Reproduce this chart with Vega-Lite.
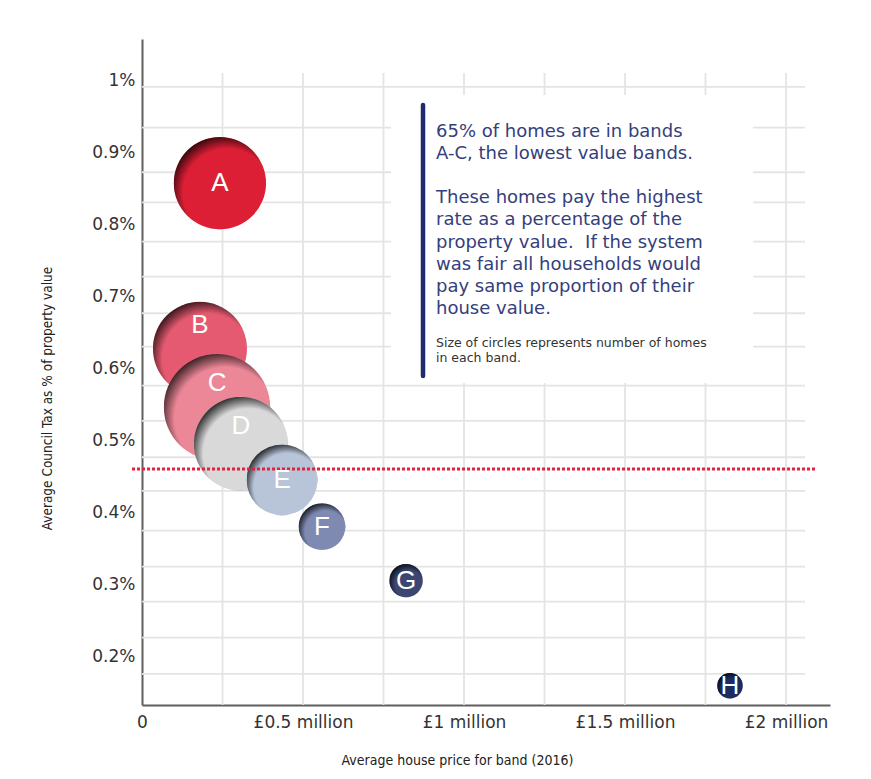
{
  "$schema": "https://vega.github.io/schema/vega-lite/v6.json",
  "width": 688,
  "height": 666,
  "autosize": "none",
  "padding": {"left": 142, "top": 39, "right": 41, "bottom": 74},
  "background": "white",
  "config": {
    "view": {"stroke": null},
    "axis": {
      "grid": false,
      "ticks": false,
      "tickSize": 0,
      "domainColor": "#5f5f5f",
      "domainWidth": 2,
      "labelFont": "DejaVu Sans",
      "labelFontSize": 17,
      "labelColor": "#333333",
      "titleFont": "DejaVu Sans Condensed",
      "titleFontSize": 13.5,
      "titleFontWeight": "normal",
      "titleColor": "#222222"
    }
  },
  "datasets": {
    "bands": [
      {"band": "A", "price": 242000, "rate": 0.858, "share": 18.3},
      {"band": "B", "price": 180000, "rate": 0.628, "share": 19.0},
      {"band": "C", "price": 233000, "rate": 0.547, "share": 24.3},
      {"band": "D", "price": 307000, "rate": 0.496, "share": 19.0},
      {"band": "E", "price": 435000, "rate": 0.446, "share": 10.8},
      {"band": "F", "price": 559000, "rate": 0.381, "share": 4.7},
      {"band": "G", "price": 820000, "rate": 0.306, "share": 2.4},
      {"band": "H", "price": 1826000, "rate": 0.160, "share": 1.4}
    ],
    "hgrid": [
      {"rate": 0.9917}, {"rate": 0.9351}, {"rate": 0.8732}, {"rate": 0.8315},
      {"rate": 0.7768}, {"rate": 0.7282}, {"rate": 0.6774}, {"rate": 0.6310},
      {"rate": 0.5768}, {"rate": 0.5278}, {"rate": 0.4774}, {"rate": 0.4306},
      {"rate": 0.3754}, {"rate": 0.3254}, {"rate": 0.2768}, {"rate": 0.2268},
      {"rate": 0.1764}
    ],
    "vgrid": [
      {"price": 250000}, {"price": 500000}, {"price": 750000}, {"price": 1000000},
      {"price": 1250000}, {"price": 1500000}, {"price": 1750000}, {"price": 2000000}
    ]
  },
  "layer": [
    {
      "data": {"name": "vgrid"},
      "mark": {"type": "rule", "color": "#e4e4e4", "strokeWidth": 1.8},
      "encoding": {
        "x": {
          "field": "price",
          "type": "quantitative",
          "scale": {"domain": [0, 2136600], "nice": false, "zero": false},
          "axis": {
            "title": "Average house price for band (2016)",
            "values": [0, 500000, 1000000, 1500000, 2000000],
            "labelExpr": "datum.value == 0 ? '0' : '£' + datum.value / 1000000 + ' million'",
            "labelPadding": 9,
            "labelFlush": false,
            "labelOverlap": false,
            "titleFontSize": 14,
            "titleX": 315,
            "titleY": 55,
            "titleAnchor": null,
            "titleAlign": "center",
            "titleBaseline": "middle"
          }
        },
        "y": {
          "datum": 1.011,
          "type": "quantitative",
          "scale": {"domain": [0.1333, 1.0583], "nice": false, "zero": false},
          "axis": {
            "title": "Average Council Tax as % of property value",
            "values": [0.2, 0.3, 0.4, 0.5, 0.6, 0.7, 0.8, 0.9, 1],
            "labelExpr": "datum.value + '%'",
            "labelPadding": 7,
            "labelFlush": false,
            "labelOverlap": false,
            "titleX": -95,
            "titleY": 359,
            "titleAngle": -90,
            "titleAlign": "center",
            "titleBaseline": "middle"
          }
        },
        "y2": {"datum": 0.1333}
      }
    },
    {
      "data": {"name": "hgrid"},
      "mark": {"type": "rule", "color": "#e4e4e4", "strokeWidth": 1.8},
      "encoding": {
        "y": {"field": "rate", "type": "quantitative"},
        "x": {"datum": 0, "type": "quantitative"},
        "x2": {"datum": 2059000}
      }
    },
    {
      "data": {"values": [{}]},
      "mark": {"type": "rect", "color": "white"},
      "encoding": {
        "x": {"datum": 773000, "type": "quantitative"},
        "x2": {"datum": 1898000},
        "y": {"datum": 0.9806, "type": "quantitative"},
        "y2": {"datum": 0.5806}
      }
    },
    {
      "data": {"values": [{}]},
      "mark": {"type": "rule", "color": "#1f2c6b", "strokeWidth": 4.5, "strokeCap": "round"},
      "encoding": {
        "x": {"datum": 872700, "type": "quantitative"},
        "y": {"datum": 0.9667, "type": "quantitative"},
        "y2": {"datum": 0.5903}
      }
    },
    {
      "data": {"values": [{}]},
      "mark": {
        "type": "text",
        "text": ["65% of homes are in bands", "A-C, the lowest value bands."],
        "align": "left",
        "baseline": "alphabetic",
        "font": "DejaVu Sans",
        "fontSize": 18,
        "lineHeight": 22.3,
        "color": "#34407c"
      },
      "encoding": {
        "x": {"datum": 913000, "type": "quantitative"},
        "y": {"datum": 0.9222, "type": "quantitative"}
      }
    },
    {
      "data": {"values": [{}]},
      "mark": {
        "type": "text",
        "text": [
          "These homes pay the highest",
          "rate as a percentage of the",
          "property value.\u00a0 If the system",
          "was fair all households would",
          "pay same proportion of their",
          "house value."
        ],
        "align": "left",
        "baseline": "alphabetic",
        "font": "DejaVu Sans",
        "fontSize": 18,
        "lineHeight": 22.3,
        "color": "#34407c"
      },
      "encoding": {
        "x": {"datum": 913000, "type": "quantitative"},
        "y": {"datum": 0.8306, "type": "quantitative"}
      }
    },
    {
      "data": {"values": [{}]},
      "mark": {
        "type": "text",
        "text": ["Size of circles represents number of homes", "in each band."],
        "align": "left",
        "baseline": "alphabetic",
        "font": "DejaVu Sans",
        "fontSize": 12.5,
        "lineHeight": 15,
        "color": "#333333"
      },
      "encoding": {
        "x": {"datum": 913000, "type": "quantitative"},
        "y": {"datum": 0.6306, "type": "quantitative"}
      }
    },
    {
      "data": {"name": "bands"},
      "encoding": {
        "x": {"field": "price", "type": "quantitative"},
        "y": {"field": "rate", "type": "quantitative"},
        "size": {
          "field": "share",
          "type": "quantitative",
          "scale": {"type": "linear", "domain": [0, 100], "range": [0, 46482], "zero": true},
          "legend": null
        },
        "color": {
          "field": "band",
          "type": "nominal",
          "scale": {
            "domain": ["A", "B", "C", "D", "E", "F", "G", "H"],
            "range": ["#dc1f34", "#e55a70", "#ec8797", "#d9d9d9", "#b8c4d8", "#7f8ab2", "#3b4772", "#1f2b5e"]
          },
          "legend": null
        }
      },
      "layer": [
        {"transform": [{"filter": "datum.band == 'A'"}], "layer": [
          {"mark": {"type": "circle", "opacity": 1}},
          {"mark": {"type": "circle", "opacity": 1}, "encoding": {"fill": {"value": {"gradient": "radial", "x1": 0.66, "y1": 0.7, "r1": 0, "x2": 0.56, "y2": 0.58, "r2": 0.6, "stops": [{"offset": 0, "color": "rgba(0,0,0,0)"}, {"offset": 0.8, "color": "rgba(0,0,0,0)"}, {"offset": 1, "color": "rgba(0,0,0,0.75)"}]}}}}
        ]},
        {"transform": [{"filter": "datum.band == 'B'"}], "layer": [
          {"mark": {"type": "circle", "opacity": 1}},
          {"mark": {"type": "circle", "opacity": 1}, "encoding": {"fill": {"value": {"gradient": "radial", "x1": 0.66, "y1": 0.7, "r1": 0, "x2": 0.56, "y2": 0.58, "r2": 0.6, "stops": [{"offset": 0, "color": "rgba(0,0,0,0)"}, {"offset": 0.8, "color": "rgba(0,0,0,0)"}, {"offset": 1, "color": "rgba(0,0,0,0.75)"}]}}}}
        ]},
        {"transform": [{"filter": "datum.band == 'C'"}], "layer": [
          {"mark": {"type": "circle", "opacity": 1}},
          {"mark": {"type": "circle", "opacity": 1}, "encoding": {"fill": {"value": {"gradient": "radial", "x1": 0.66, "y1": 0.7, "r1": 0, "x2": 0.56, "y2": 0.58, "r2": 0.6, "stops": [{"offset": 0, "color": "rgba(0,0,0,0)"}, {"offset": 0.8, "color": "rgba(0,0,0,0)"}, {"offset": 1, "color": "rgba(0,0,0,0.75)"}]}}}}
        ]},
        {"transform": [{"filter": "datum.band == 'D'"}], "layer": [
          {"mark": {"type": "circle", "opacity": 1}},
          {"mark": {"type": "circle", "opacity": 1}, "encoding": {"fill": {"value": {"gradient": "radial", "x1": 0.66, "y1": 0.7, "r1": 0, "x2": 0.56, "y2": 0.58, "r2": 0.6, "stops": [{"offset": 0, "color": "rgba(0,0,0,0)"}, {"offset": 0.8, "color": "rgba(0,0,0,0)"}, {"offset": 1, "color": "rgba(0,0,0,0.8)"}]}}}}
        ]},
        {"transform": [{"filter": "datum.band == 'E'"}], "layer": [
          {"mark": {"type": "circle", "opacity": 1}},
          {"mark": {"type": "circle", "opacity": 1}, "encoding": {"fill": {"value": {"gradient": "radial", "x1": 0.66, "y1": 0.7, "r1": 0, "x2": 0.56, "y2": 0.58, "r2": 0.6, "stops": [{"offset": 0, "color": "rgba(0,0,0,0)"}, {"offset": 0.8, "color": "rgba(0,0,0,0)"}, {"offset": 1, "color": "rgba(0,0,0,0.8)"}]}}}}
        ]},
        {"transform": [{"filter": "datum.band == 'F'"}], "layer": [
          {"mark": {"type": "circle", "opacity": 1}},
          {"mark": {"type": "circle", "opacity": 1}, "encoding": {"fill": {"value": {"gradient": "radial", "x1": 0.66, "y1": 0.7, "r1": 0, "x2": 0.56, "y2": 0.58, "r2": 0.6, "stops": [{"offset": 0, "color": "rgba(0,0,0,0)"}, {"offset": 0.75, "color": "rgba(0,0,0,0)"}, {"offset": 1, "color": "rgba(0,0,0,0.8)"}]}}}}
        ]},
        {"transform": [{"filter": "datum.band == 'G'"}], "layer": [
          {"mark": {"type": "circle", "opacity": 1}},
          {"mark": {"type": "circle", "opacity": 1}, "encoding": {"fill": {"value": {"gradient": "radial", "x1": 0.66, "y1": 0.7, "r1": 0, "x2": 0.56, "y2": 0.58, "r2": 0.6, "stops": [{"offset": 0, "color": "rgba(0,0,0,0)"}, {"offset": 0.7, "color": "rgba(0,0,0,0)"}, {"offset": 1, "color": "rgba(0,0,0,0.8)"}]}}}}
        ]},
        {"transform": [{"filter": "datum.band == 'H'"}], "layer": [
          {"mark": {"type": "circle", "opacity": 1}},
          {"mark": {"type": "circle", "opacity": 1}, "encoding": {"fill": {"value": {"gradient": "radial", "x1": 0.66, "y1": 0.7, "r1": 0, "x2": 0.56, "y2": 0.58, "r2": 0.6, "stops": [{"offset": 0, "color": "rgba(0,0,0,0)"}, {"offset": 0.7, "color": "rgba(0,0,0,0)"}, {"offset": 1, "color": "rgba(0,0,0,0.8)"}]}}}}
        ]}
      ]
    },
    {
      "data": {"values": [{}]},
      "mark": {"type": "rule", "color": "#e0233b", "strokeWidth": 3, "strokeDash": [3, 2]},
      "encoding": {
        "x": {"datum": -31000, "type": "quantitative"},
        "x2": {"datum": 2096000},
        "y": {"datum": 0.461, "type": "quantitative"}
      }
    },
    {
      "data": {"name": "bands"},
      "transform": [{"filter": "indexof(['A','E','F','G','H'], datum.band) >= 0"}],
      "mark": {"type": "text", "font": "Liberation Sans", "fontSize": 26, "color": "white", "baseline": "middle"},
      "encoding": {
        "x": {"field": "price", "type": "quantitative"},
        "y": {"field": "rate", "type": "quantitative"},
        "text": {"field": "band"}
      }
    },
    {
      "data": {"name": "bands"},
      "transform": [{"filter": "datum.band == 'B' || datum.band == 'C'"}],
      "mark": {"type": "text", "font": "Liberation Sans", "fontSize": 26, "color": "white", "baseline": "middle", "dy": -24},
      "encoding": {
        "x": {"field": "price", "type": "quantitative"},
        "y": {"field": "rate", "type": "quantitative"},
        "text": {"field": "band"}
      }
    },
    {
      "data": {"name": "bands"},
      "transform": [{"filter": "datum.band == 'D'"}],
      "mark": {"type": "text", "font": "Liberation Sans", "fontSize": 26, "color": "white", "baseline": "middle", "dy": -18},
      "encoding": {
        "x": {"field": "price", "type": "quantitative"},
        "y": {"field": "rate", "type": "quantitative"},
        "text": {"field": "band"}
      }
    }
  ]
}
